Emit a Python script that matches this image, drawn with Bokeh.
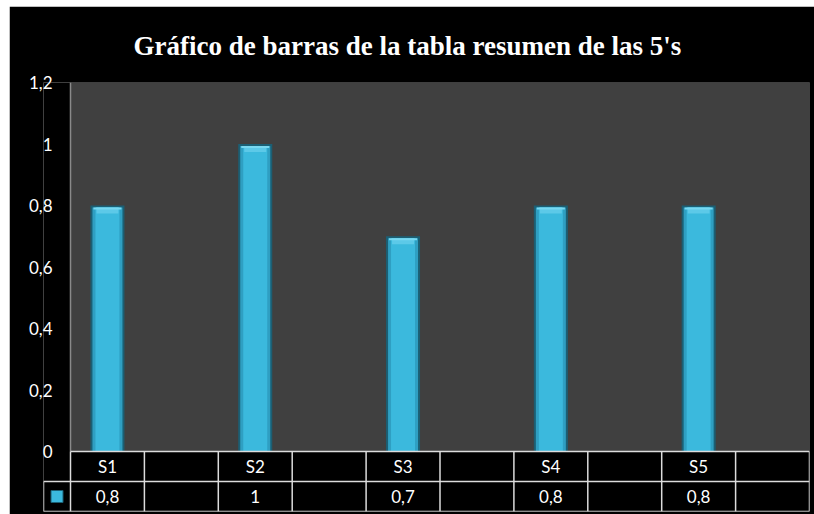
from bokeh.plotting import figure
from bokeh.models import Range1d, FixedTicker, ColumnDataSource, Spacer
from bokeh.layouts import row, column
from bokeh.core.properties import value
from bokeh.embed import file_html
from bokeh.resources import INLINE

# ---- data ----
title_text = "Gráfico de barras de la tabla resumen de las 5's"
categories = ["S1", "S2", "S3", "S4", "S5"]
values = [0.8, 1.0, 0.7, 0.8, 0.8]
y_ticks = [0, 0.2, 0.4, 0.6, 0.8, 1.0, 1.2]
y_tick_labels = ["0", "0,2", "0,4", "0,6", "0,8", "1", "1,2"]

# ---- layout constants ----
N_COLS = 2 * len(categories)          # each category followed by an empty column
Y_MAX = 1.2
PLOT_PX = 369                         # height of gray plot area in px
ROW_PX = 30                           # table row height in px
COL_PX = 73.9
LEG_PX = 27
PPU = PLOT_PX / Y_MAX
ROW_U = ROW_PX / PPU                  # table row height in data units
LEG_U = LEG_PX / COL_PX

FONT = value("Lato")
GRID = "#dcdcdc"

p = figure(width=805, height=508, output_backend="svg", toolbar_location=None,
           x_range=Range1d(-LEG_U, N_COLS), y_range=Range1d(-2 * ROW_U, Y_MAX),
           x_axis_location=None, min_border_left=34, min_border_right=5,
           min_border_top=76, min_border_bottom=3)
p.background_fill_color = "black"
p.border_fill_color = "black"
p.outline_line_color = None
p.grid.visible = False

# title
p.title.text = title_text
p.title.align = "left"
p.title.offset = 90
p.title.text_color = "white"
p.title.text_font = "Liberation Serif"
p.title.text_font_style = "bold"
p.title.text_font_size = "27px"
p.title.standoff = 44

# y axis
ax = p.yaxis[0]
ax.ticker = FixedTicker(ticks=y_ticks)
ax.major_label_overrides = {t: l for t, l in zip(y_ticks, y_tick_labels)}
ax.axis_line_color = None
ax.major_tick_line_color = None
ax.minor_tick_line_color = None
ax.major_tick_out = 0
ax.major_tick_in = 0
ax.major_label_standoff = -9
ax.major_label_text_color = "white"
ax.major_label_text_font = "Lato"
ax.major_label_text_font_size = "17px"

# gray plot area
p.quad(left=[0], right=[N_COLS], bottom=[0], top=[Y_MAX],
       fill_color="#404040", line_color=None)
p.segment(x0=[0], y0=[0], x1=[0], y1=[Y_MAX], line_color="#8a8a8a", line_width=1.5)

# bars (shadowed edges, lighter centre, light bevel on top)
xs = [2 * i + 0.5 for i in range(len(categories))]
src = ColumnDataSource(dict(x=xs, top=values,
                            top_in=[v - 2 / PPU for v in values],
                            cap_mid=[v - 4 / PPU for v in values],
                            cap_bot=[v - 8 / PPU for v in values]))
p.vbar(x="x", top="top", bottom=0, width=34 / COL_PX, source=src,
       fill_color="#1b5f74", line_color=None)
p.vbar(x="x", top="top_in", bottom=0, width=30 / COL_PX, source=src,
       fill_color="#2f9fc2", line_color=None)
p.vbar(x="x", top="top_in", bottom=0, width=24 / COL_PX, source=src,
       fill_color="#3bb9dd", line_color=None)
p.vbar(x="x", top="top_in", bottom="cap_bot", width=22 / COL_PX, source=src,
       fill_color="#5cc9e8", line_color=None)
p.vbar(x="x", top="top_in", bottom="cap_mid", width=28 / COL_PX, source=src,
       fill_color="#79d8f0", line_color=None)

# data table
xl = list(range(N_COLS + 1))
p.segment(x0=xl, y0=[0] * len(xl), x1=xl, y1=[-2 * ROW_U] * len(xl),
          line_color=GRID, line_width=1.5)
p.segment(x0=[0, -LEG_U, -LEG_U, -LEG_U], y0=[0, -ROW_U, -2 * ROW_U, -ROW_U],
          x1=[N_COLS, N_COLS, N_COLS, -LEG_U], y1=[0, -ROW_U, -2 * ROW_U, -2 * ROW_U],
          line_color=GRID, line_width=1.5)

val_labels = [f"{v:g}".replace(".", ",") for v in values]
p.text(x=xs, y=[-ROW_U / 2] * len(xs), text=categories, text_color="white",
       text_font=FONT, text_font_size="17px", text_align="center", text_baseline="middle")
p.text(x=xs, y=[-1.5 * ROW_U] * len(xs), text=val_labels, text_color="white",
       text_font=FONT, text_font_size="17px", text_align="center", text_baseline="middle")

# legend marker in table
p.scatter(x=[-LEG_U / 2], y=[-1.5 * ROW_U], marker="square", size=12,
          fill_color="#3bb9dd", line_color="#1b5f74")

layout = row(Spacer(width=9), column(Spacer(height=6), p))
open("out.html", "w").write(file_html(layout, INLINE))
